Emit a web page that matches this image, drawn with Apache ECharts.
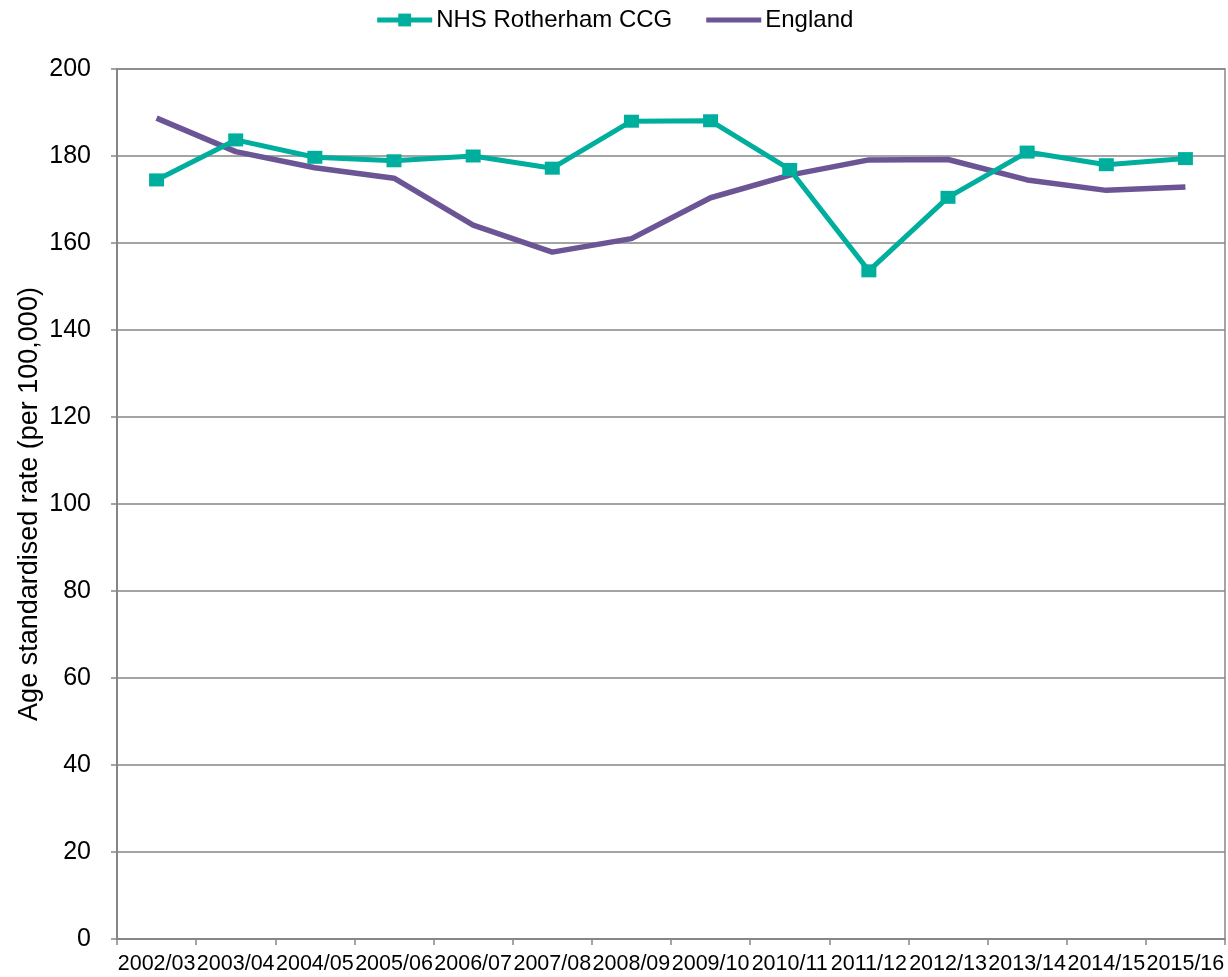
<!DOCTYPE html>
<html>
<head>
<meta charset="utf-8">
<script src="https://cdn.jsdelivr.net/npm/echarts@6/dist/echarts.min.js"></script>
<style>
html,body{margin:0;padding:0;background:#fff;}
#chart{width:1228px;height:977px;}
</style>
</head>
<body>
<div id="chart"></div>
<script>
const categories = ['2002/03','2003/04','2004/05','2005/06','2006/07','2007/08','2008/09','2009/10','2010/11','2011/12','2012/13','2013/14','2014/15','2015/16'];
const rotherhamValues = [174.5, 183.7, 179.7, 178.9, 180.0, 177.2, 188.0, 188.1, 176.9, 153.6, 170.5, 180.9, 178.0, 179.4];
const englandValues = [188.7, 181.0, 177.3, 174.9, 164.1, 157.9, 161.0, 170.4, 175.6, 179.1, 179.2, 174.5, 172.1, 172.9];
const yTicks = { min: 0, max: 200, interval: 20 };
const seriesNames = ['NHS Rotherham CCG', 'England'];

const FONT = "'Liberation Sans', Arial, sans-serif";
const TEAL = '#00AE9D';
const PURPLE = '#6B5595';
const chart = echarts.init(document.getElementById('chart'), null, { renderer: 'canvas' });
chart.setOption({
  animation: false,
  backgroundColor: '#ffffff',
  textStyle: { fontFamily: FONT, color: '#000' },
  legend: {
    top: 3,
    left: 'center',
    itemWidth: 55,
    itemHeight: 16,
    itemGap: 34,
    lineStyle: { width: 5 },
    textStyle: { fontFamily: FONT, fontSize: 24, color: '#000', padding: [0, 0, 0, -1] },
    data: [
      { name: seriesNames[0] },
      { name: seriesNames[1], icon: 'path://M0,0 H110 V10 H0 Z', itemStyle: { color: PURPLE } }
    ]
  },
  grid: {
    left: 117, right: 3, top: 69, bottom: 38,
    show: true, borderColor: '#868686', borderWidth: 1.5,
    containLabel: false
  },
  xAxis: {
    type: 'category',
    data: categories,
    boundaryGap: true,
    axisLine: { lineStyle: { color: '#868686', width: 2 } },
    axisTick: { show: true, alignWithLabel: false, length: 6, lineStyle: { color: '#868686', width: 1.5 } },
    axisLabel: { interval: 0, margin: 14, fontSize: 21.5, color: '#000', fontFamily: FONT },
    splitLine: { show: false }
  },
  yAxis: {
    type: 'value',
    min: yTicks.min, max: yTicks.max, interval: yTicks.interval,
    name: 'Age standardised rate (per 100,000)',
    nameLocation: 'middle',
    nameRotate: 90,
    nameGap: 74,
    nameMoveOverlap: false,
    nameTextStyle: { fontSize: 27, color: '#000', fontFamily: FONT },
    axisLine: { show: true, lineStyle: { color: '#868686', width: 2 } },
    axisTick: { show: true, length: 6, lineStyle: { color: '#868686', width: 1.5 } },
    axisLabel: { margin: 26, fontSize: 25, color: '#000', fontFamily: FONT },
    splitLine: { show: true, lineStyle: { color: '#868686', width: 1.5 } }
  },
  series: [
    {
      name: seriesNames[0],
      type: 'line',
      data: rotherhamValues,
      symbol: 'rect',
      symbolSize: [15, 13],
      showAllSymbol: true,
      itemStyle: { color: TEAL },
      lineStyle: { color: TEAL, width: 5 },
      z: 3
    },
    {
      name: seriesNames[1],
      type: 'line',
      data: englandValues,
      symbol: 'none',
      itemStyle: { color: PURPLE },
      lineStyle: { color: PURPLE, width: 5.5 },
      z: 2
    }
  ]
});
</script>
</body>
</html>
